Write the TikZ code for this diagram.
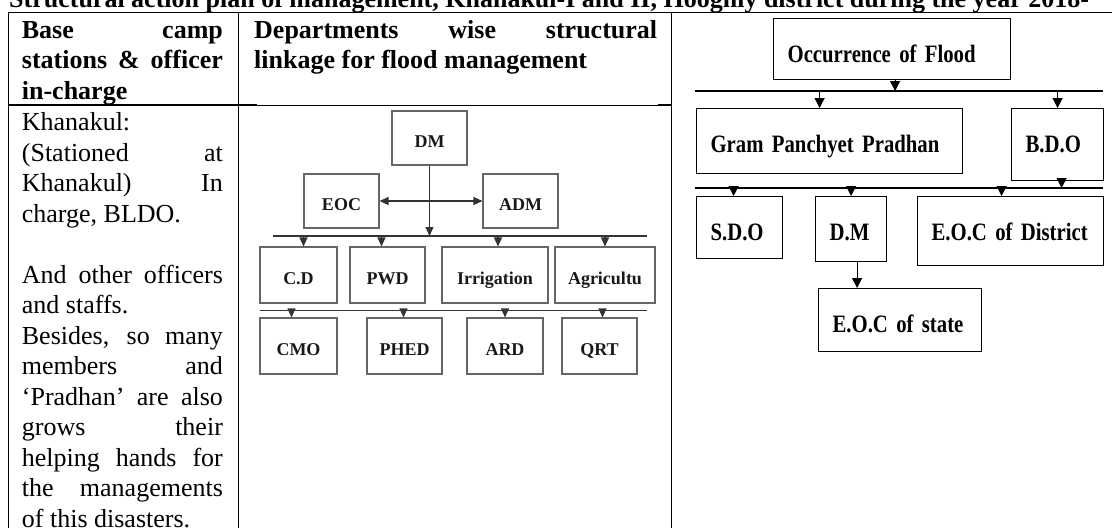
\documentclass[tikz,border=0pt]{standalone}
\usepackage{fontspec}
\setmainfont{Liberation Serif}
\newfontfamily\flowfont[FakeStretch=0.83,WordSpace=0.8]{Liberation Serif}
\usetikzlibrary{arrows.meta}
\setlength{\parindent}{0pt}
\setlength{\parskip}{0pt}
\tolerance=9999
\hbadness=10000
\hyphenpenalty=10000
\exhyphenpenalty=10000

\begin{document}
\begin{tikzpicture}[x=1pt,y=-1pt,
  >={Triangle[width=10pt,length=10pt]},
  rule/.style={line width=1.3pt},
  cell/.style={anchor=north west,inner sep=0pt,align=justify,font=\fontsize{26}{30.5}\selectfont},
  grid/.style={draw=black!60,line width=1.1pt,minimum width=75pt,minimum height=54pt,inner sep=0pt,text height=19pt,text depth=0pt,text=black!90,font=\fontsize{18}{20}\selectfont\bfseries},
  link/.style={draw=black!80,line width=1.1pt,>={Triangle[width=8pt,length=9pt]}},
  flow/.style={draw,line width=1.2pt,anchor=north west,align=left,inner xsep=14pt,inner ysep=2pt,text height=42pt,font=\flowfont\bfseries\fontsize{25}{28}\selectfont},
  wire/.style={line width=1.2pt}]
  \useasboundingbox (0,0) rectangle (1112,528);
  \clip (0,0) rectangle (1112,528);

  \node[anchor=base west,inner sep=0pt,font=\fontsize{26}{30}\selectfont\bfseries] (title) at (9,7) {Structural action plan of management, Khanakul-I and II, Hooghly district during the year 2018-};

  \draw[rule] (8.5,12.3) -- (1112,12.3);
  \draw[rule] (8.5,12.3) -- (8.5,528);
  \draw[rule] (238.3,12.3) -- (238.3,528);
  \draw[rule] (671.7,12.3) -- (671.7,528);
  \draw[rule] (8.5,105) -- (257,105);
  \draw[rule] (658,105) -- (671.7,105);
  \draw[line width=0.8pt] (257,105) -- (658,105);

  \node[cell,text width=201pt,font=\fontsize{26}{30.5}\selectfont\bfseries] (camphead) at (21.7,16.65) {\strut Base camp\linebreak stations \& officer\linebreak in-charge};
  \node[cell,text width=403pt,font=\fontsize{26}{30.5}\selectfont\bfseries] (linkhead) at (254,16.65) {\strut Departments wise structural\linebreak linkage for flood management};
  \node[cell,text width=201pt] (campbody) at (21.7,109.15) {\strut Khanakul:\par
    (Stationed at\linebreak Khanakul) In\linebreak charge, BLDO.\par
    \mbox{}\par
    And other officers\linebreak and staffs.\par
    Besides, so many\linebreak members and\linebreak ‘Pradhan’ are also\linebreak grows their\linebreak helping hands for\linebreak the managements\linebreak of this disasters.};

  \node[grid] (dm) at (429.5,138) {DM};
  \node[grid] (eoc) at (341.5,201) {EOC};
  \node[grid] (adm) at (520.5,201) {ADM};
  \node[grid,minimum width=77pt,minimum height=56pt] (cd) at (298.5,275) {C.D};
  \node[grid,minimum height=56pt] (pwd) at (387.5,275) {PWD};
  \node[grid,minimum width=106pt,minimum height=56pt] (irr) at (495,275) {Irrigation};
  \node[grid,minimum width=100pt,minimum height=56pt] (agr) at (605,275) {Agricultu};
  \node[grid,minimum width=77pt,minimum height=56pt] (cmo) at (298.5,346) {CMO};
  \node[grid,minimum height=56pt] (phed) at (404.5,346) {PHED};
  \node[grid,minimum width=76pt,minimum height=56pt] (ard) at (505,346) {ARD};
  \node[grid,minimum height=56pt] (qrt) at (599.5,346) {QRT};
  \coordinate (m1w) at (273,236);
  \coordinate (m1e) at (647,236);
  \coordinate (m2w) at (260,310.5);
  \coordinate (m2e) at (647,310.5);

  \draw[link] (m1w) -- (m1e);
  \draw[link,->] (dm) -- (dm |- m1w);
  \draw[link,<->] (eoc) -- (adm);
  \draw[link,->] ([xshift=5pt]cd.north |- m1w) -- ([xshift=5pt]cd.north);
  \draw[link,->] ([xshift=-6pt]pwd.north |- m1w) -- ([xshift=-6pt]pwd.north);
  \draw[link,->] ([xshift=3pt]irr.north |- m1w) -- ([xshift=3pt]irr.north);
  \draw[link,->] (agr.north |- m1w) -- (agr.north);
  \draw[link] (m2w) -- (m2e);
  \draw[link,->] ([xshift=-7pt]cmo.north |- m2w) -- ([xshift=-7pt]cmo.north);
  \draw[link,->] ([xshift=-1pt]phed.north |- m2w) -- ([xshift=-1pt]phed.north);
  \draw[link,->] (ard.north |- m2w) -- (ard.north);
  \draw[link,->] ([xshift=3pt]qrt.north |- m2w) -- ([xshift=3pt]qrt.north);

  \node[flow,text width=209pt,text depth=15pt] (occ) at (773,18) {Occurrence of Flood};
  \node[flow,text width=238pt,text depth=19pt] (gram) at (696,108) {Gram Panchyet Pradhan};
  \node[flow,text width=64pt,text depth=26pt] (bdo) at (1011,108) {B.D.O};
  \node[flow,text width=58pt,text depth=16pt] (sdo) at (696,196) {S.D.O};
  \node[flow,text width=43pt,text depth=19pt] (dmr) at (815,196) {D.M};
  \node[flow,text width=158pt,text depth=23pt] (eocd) at (917,196) {E.O.C of District};
  \node[flow,text width=135pt,text depth=17pt] (state) at (818,288) {E.O.C of state};
  \coordinate (r1w) at (695,91);
  \coordinate (r1e) at (1103,91);
  \coordinate (r2w) at (695,188);
  \coordinate (r2e) at (1103,188);

  \draw[wire,->] ([xshift=3pt]occ.south) -- ([xshift=3pt]occ.south |- r1w);
  \draw[wire] (r1w) -- (r1e);
  \draw[wire,->] ([xshift=-10pt]gram.north |- r1w) -- ([xshift=-10pt]gram.north);
  \draw[wire,->] (bdo.north |- r1w) -- (bdo.north);
  \draw[wire,->] ([xshift=4pt]bdo.south) -- ([xshift=4pt]bdo.south |- r2w);
  \draw[wire] (r2w) -- (r2e);
  \draw[wire,->] ([xshift=-6pt]sdo.north |- r2w) -- ([xshift=-6pt]sdo.north);
  \draw[wire,->] (dmr.north |- r2w) -- (dmr.north);
  \draw[wire,->] ([xshift=-9pt]eocd.north |- r2w) -- ([xshift=-9pt]eocd.north);
  \draw[wire,->] ([xshift=6pt]dmr.south) -- ([xshift=6pt]dmr.south |- state.north);
\end{tikzpicture}
\end{document}
